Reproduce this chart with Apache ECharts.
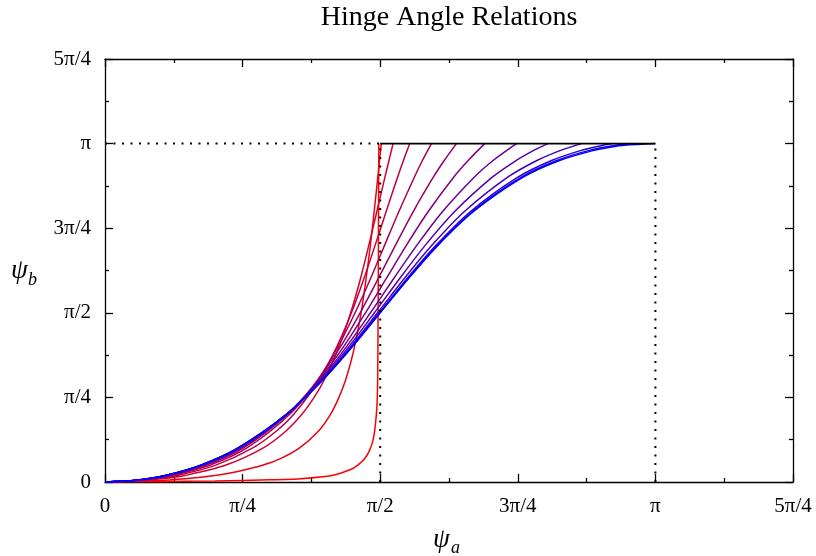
<!DOCTYPE html>
<html>
<head>
<meta charset="utf-8">
<title>Hinge Angle Relations</title>
<script src="https://cdn.jsdelivr.net/npm/echarts/dist/echarts.min.js"></script>
<style>
  body { margin: 0; background: #fff; }
  #main { width: 816px; height: 556px; }
</style>
</head>
<body>
<div id="main"></div>
<script>
// values are in units of pi: [psi_a / pi, psi_b / pi]
var tickLabels = ['0', 'π/4', 'π/2', '3π/4', 'π', '5π/4'];

// red -> blue
var curve1 = [[0,0],[0.1,0.001],[0.2,0.003],[0.3,0.0065],[0.35,0.009],[0.4,0.016],[0.42,0.022],[0.445,0.036],[0.455,0.045],[0.463,0.055],[0.47,0.066],[0.476,0.079],[0.481,0.095],[0.485,0.112],[0.488,0.132],[0.49,0.152],[0.4925,0.19],[0.4944,0.233],[0.4953,0.29],[0.4958,0.38],[0.4968,0.7],[0.4975,1.0]];
var curve2 = [[0,0],[0.1086,0.005],[0.15,0.01],[0.2031,0.02],[0.239,0.03],[0.2874,0.05],[0.3198,0.07],[0.3529,0.1],[0.3876,0.15],[0.4097,0.2],[0.4251,0.25],[0.4368,0.3],[0.4459,0.35],[0.4534,0.4],[0.4653,0.5],[0.4743,0.6],[0.4822,0.7],[0.4891,0.8],[0.4956,0.9],[0.4988,0.95],[0.502,1.0]];
var curve3 = [[0,0],[0.0759,0.005],[0.1062,0.01],[0.1472,0.02],[0.2199,0.05],[0.2869,0.1],[0.3283,0.15],[0.3577,0.2],[0.3799,0.25],[0.3978,0.3],[0.4253,0.4],[0.4464,0.5],[0.464,0.6],[0.4794,0.7],[0.494,0.8],[0.5085,0.9],[0.5159,0.95],[0.5234,1.0]];
var curve4 = [[0,0],[0.0679,0.005],[0.0953,0.01],[0.1328,0.02],[0.2013,0.05],[0.2678,0.1],[0.311,0.15],[0.3429,0.2],[0.3884,0.3],[0.4213,0.4],[0.4477,0.5],[0.4702,0.6],[0.4909,0.7],[0.511,0.8],[0.5314,0.9],[0.5422,0.95],[0.5537,1.0]];
var curve5 = [[0,0],[0.0635,0.005],[0.0893,0.01],[0.1248,0.02],[0.191,0.05],[0.2571,0.1],[0.3356,0.2],[0.3858,0.3],[0.4234,0.4],[0.4544,0.5],[0.4821,0.6],[0.5081,0.7],[0.5342,0.8],[0.5618,0.9],[0.5767,0.95],[0.5931,1.0]];
var curve6 = [[0,0],[0.0609,0.005],[0.12,0.02],[0.1847,0.05],[0.251,0.1],[0.3322,0.2],[0.3862,0.3],[0.428,0.4],[0.4636,0.5],[0.4961,0.6],[0.5278,0.7],[0.5603,0.8],[0.5962,0.9],[0.6163,0.95],[0.6385,1.0]];
var curve7 = [[0,0],[0.0591,0.005],[0.1168,0.02],[0.1806,0.05],[0.2471,0.1],[0.3306,0.2],[0.388,0.3],[0.4336,0.4],[0.4733,0.5],[0.5106,0.6],[0.5478,0.7],[0.5876,0.8],[0.6331,0.9],[0.6598,0.95],[0.6899,1.0]];
var curve8 = [[0,0],[0.0579,0.005],[0.1147,0.02],[0.1779,0.05],[0.2444,0.1],[0.33,0.2],[0.39,0.3],[0.4389,0.4],[0.4823,0.5],[0.524,0.6],[0.5668,0.7],[0.6138,0.8],[0.6703,0.9],[0.7051,0.95],[0.7475,1.0]];
var curve9 = [[0,0],[0.0572,0.005],[0.1133,0.02],[0.1762,0.05],[0.2429,0.1],[0.3298,0.2],[0.3919,0.3],[0.4431,0.4],[0.4895,0.5],[0.5348,0.6],[0.5821,0.7],[0.6358,0.8],[0.7031,0.9],[0.7468,0.95],[0.7791,0.98],[0.8048,1.0]];
var curve10 = [[0,0],[0.0567,0.005],[0.1124,0.02],[0.175,0.05],[0.2419,0.1],[0.3298,0.2],[0.3933,0.3],[0.4464,0.4],[0.4951,0.5],[0.5431,0.6],[0.5943,0.7],[0.6536,0.8],[0.731,0.9],[0.7848,0.95],[0.8277,0.98],[0.8655,1.0]];
var curve11 = [[0,0],[0.0564,0.005],[0.1119,0.02],[0.1744,0.05],[0.2414,0.1],[0.3298,0.2],[0.3943,0.3],[0.4484,0.4],[0.4984,0.5],[0.5481,0.6],[0.6017,0.7],[0.6647,0.8],[0.7494,0.9],[0.8114,0.95],[0.8653,0.98],[0.905,0.995],[0.9229,1.0]];
var curve12 = [[0,0],[0.0563,0.005],[0.0794,0.01],[0.1117,0.02],[0.1742,0.05],[0.2412,0.1],[0.3298,0.2],[0.3946,0.3],[0.449,0.4],[0.4995,0.5],[0.5498,0.6],[0.6041,0.7],[0.6682,0.8],[0.7557,0.9],[0.8209,0.95],[0.88,0.98],[0.9282,0.995],[0.9551,1.0]];
var curve13 = [[0,0],[0.0563,0.005],[0.0794,0.01],[0.1117,0.02],[0.1741,0.05],[0.2411,0.1],[0.3298,0.2],[0.3947,0.3],[0.4493,0.4],[0.5,0.5],[0.5507,0.6],[0.6053,0.7],[0.6702,0.8],[0.7589,0.9],[0.8259,0.95],[0.8883,0.98],[0.9206,0.99],[0.9437,0.995],[1.0,1.0]];

// guide lines at psi_b = pi, psi_a = pi/2 and psi_a = pi
var topLine = [[0.5,1],[1,1]];
var dotTop = [[0,1],[0.5,1]];
var dotHalf = [[0.5,0],[0.5,1]];
var dotPi = [[1,0],[1,1]];

var curves = [curve1, curve2, curve3, curve4, curve5, curve6, curve7,
              curve8, curve9, curve10, curve11, curve12, curve13];

var serif = '"Liberation Serif", "DejaVu Serif", serif';

initChart();

function initChart() {
    var myChart = echarts.init(document.getElementById('main'));
    myChart.setOption(buildOption());
}

function curveColor(i, n) {
    var f = i / (n - 1);
    return 'rgb(' + Math.round(255 * (1 - f)) + ',0,' + Math.round(255 * f) + ')';
}

function piLabel(v) {
    return tickLabels[Math.round(v / 0.25)];
}

function makeAxis(pos, showLabel) {
    return {
        type: 'value',
        position: pos,
        min: 0,
        max: 1.25,
        interval: 0.25,
        axisLine: {onZero: false, lineStyle: {color: '#000', width: 1.3}},
        axisTick: {inside: true, length: 8, lineStyle: {color: '#000', width: 1.3}},
        minorTick: {show: true, splitNumber: 2, length: 4, lineStyle: {color: '#000', width: 1.3}},
        splitLine: {show: false},
        minorSplitLine: {show: false},
        axisLabel: {
            show: showLabel,
            formatter: piLabel,
            color: '#000',
            fontFamily: serif,
            fontSize: 21,
            margin: 14
        }
    };
}

function buildOption() {
    var series = [];
    for (var i = 0; i < curves.length; i++) {
        var c = curveColor(i, curves.length);
        series.push({
            type: 'line',
            data: curves[i],
            showSymbol: false,
            smooth: i === 0 ? 0.15 : 0.3,
            lineStyle: {width: 1.5, color: c},
            itemStyle: {color: c},
            silent: true,
            z: 2
        });
    }
    //虚线
    var dots = [dotTop, dotHalf, dotPi];
    for (var j = 0; j < dots.length; j++) {
        series.push({
            type: 'line',
            data: dots[j],
            showSymbol: false,
            lineStyle: {width: 2, color: '#000', type: [2, 6.5]},
            silent: true,
            z: 3
        });
    }
    series.push({
        type: 'line',
        data: topLine,
        showSymbol: false,
        lineStyle: {width: 1.6, color: '#000'},
        silent: true,
        z: 4
    });

    return {
        animation: false,
        backgroundColor: '#fff',
        grid: {left: 105, right: 23, top: 59, bottom: 74, containLabel: false, outerBoundsMode: 'none'},
        xAxis: [makeAxis('bottom', true), makeAxis('top', false)],
        yAxis: [makeAxis('left', true), makeAxis('right', false)],
        graphic: [
            {type: 'text', x: 449, y: 18, style: {text: 'Hinge Angle Relations', fill: '#000', fontFamily: serif, fontSize: 28, align: 'center', verticalAlign: 'middle'}},
            {type: 'text', x: 11, y: 271, style: {text: 'ψ', fill: '#000', fontFamily: serif, fontStyle: 'italic', fontSize: 27, align: 'left', verticalAlign: 'middle'}},
            {type: 'text', x: 28, y: 280, style: {text: 'b', fill: '#000', fontFamily: serif, fontStyle: 'italic', fontSize: 18, align: 'left', verticalAlign: 'middle'}},
            {type: 'text', x: 433, y: 540, style: {text: 'ψ', fill: '#000', fontFamily: serif, fontStyle: 'italic', fontSize: 27, align: 'left', verticalAlign: 'middle'}},
            {type: 'text', x: 451, y: 548, style: {text: 'a', fill: '#000', fontFamily: serif, fontStyle: 'italic', fontSize: 18, align: 'left', verticalAlign: 'middle'}}
        ],
        series: series
    };
}
</script>
</body>
</html>
